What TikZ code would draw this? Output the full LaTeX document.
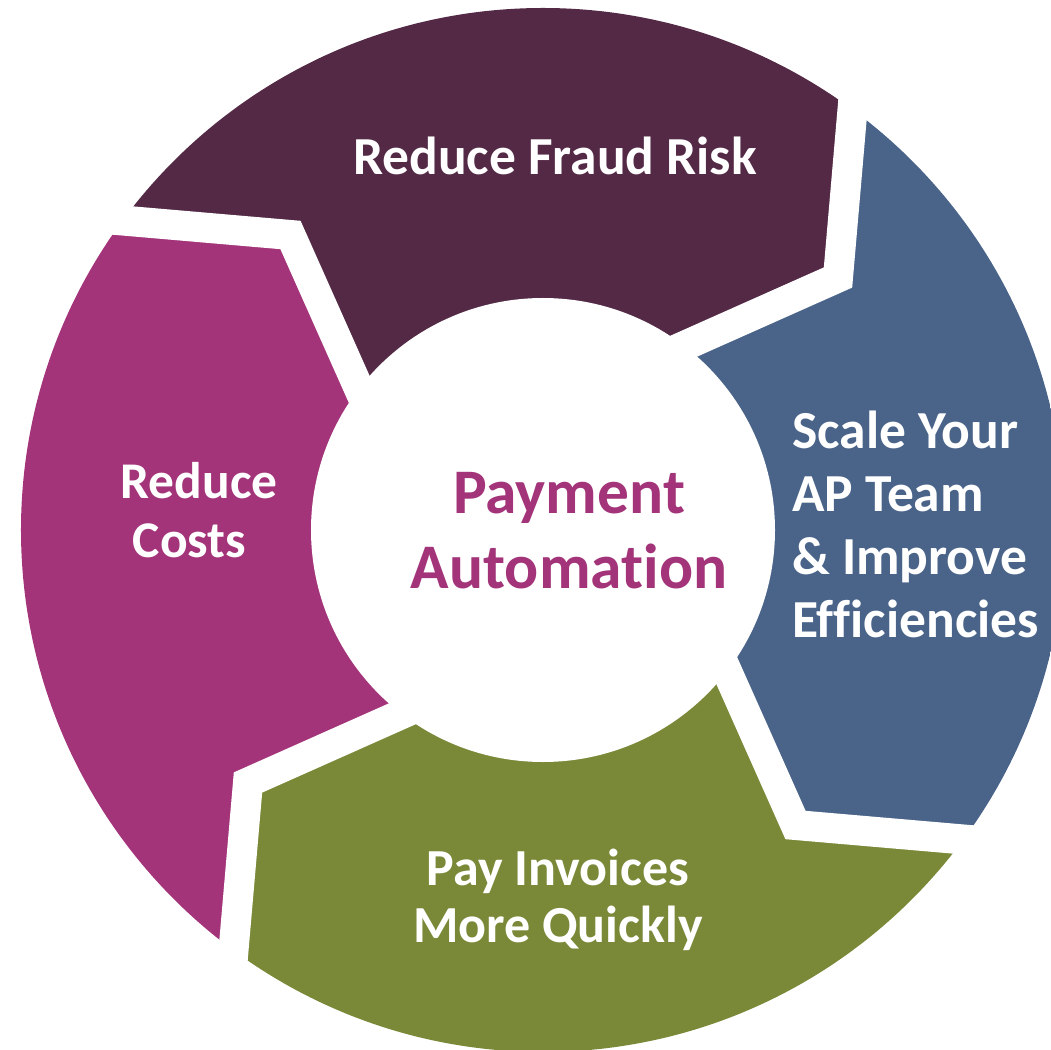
\documentclass[tikz,border=0pt]{standalone}
\usepackage{fontspec}
\setmainfont{Carlito}[Ligatures=NoCommon]
\definecolor{plum}{HTML}{532945}
\definecolor{berry}{HTML}{A3347A}
\definecolor{slate}{HTML}{4A6489}
\definecolor{olive}{HTML}{7A8938}
\begin{document}
\begin{tikzpicture}[x=1pt,y=1pt,
  seglabel/.style={text=white, inner sep=0pt},
  gap/.style={white, line width=30pt, line join=miter},
  sz/.style 2 args={font={\fontsize{#1}{#2}\selectfont\bfseries}}]
\useasboundingbox (-543,-519) rectangle (508,530);

% bent dividers between the four ring segments (outer, bend, inner)
\coordinate (d1a) at (316.75,504.5);  \coordinate (d1b) at (295,252.5);   \coordinate (d1c) at (94,163);
\coordinate (d2a) at (504.5,-316.75); \coordinate (d2b) at (252.5,-295);  \coordinate (d2c) at (163,-94);
\coordinate (d3a) at (-316.75,-504.5);\coordinate (d3b) at (-295,-252.5); \coordinate (d3c) at (-94,-163);
\coordinate (d4a) at (-504.5,316.75); \coordinate (d4b) at (-252.5,295);  \coordinate (d4c) at (-163,94);
\coordinate (o) at (0,0);

% ring segments
\begin{scope}
  \clip (o) circle (522);
  \fill[plum]  (d4a) -- (d4b) -- (d4c) -- (o) -- (d1c) -- (d1b) -- (d1a)
               -- (57.9:1500) -- (102.9:1500) -- (147.9:1500) -- cycle;
  \fill[slate] (d1a) -- (d1b) -- (d1c) -- (o) -- (d2c) -- (d2b) -- (d2a)
               -- (-32.1:1500) -- (12.9:1500) -- (57.9:1500) -- cycle;
  \fill[olive] (d2a) -- (d2b) -- (d2c) -- (o) -- (d3c) -- (d3b) -- (d3a)
               -- (-122.1:1500) -- (-77.1:1500) -- (-32.1:1500) -- cycle;
  \fill[berry] (d3a) -- (d3b) -- (d3c) -- (o) -- (d4c) -- (d4b) -- (d4a)
               -- (147.9:1500) -- (192.9:1500) -- (237.9:1500) -- cycle;
\end{scope}

% white gaps and centre disc
\draw[gap] (d1a) -- (d1b) -- (d1c);
\draw[gap] (d2a) -- (d2b) -- (d2c);
\draw[gap] (d3a) -- (d3b) -- (d3c);
\draw[gap] (d4a) -- (d4b) -- (d4c);
\fill[white] (o) circle (232);

% texts
\node[seglabel, sz={53.5}{61}, anchor=base] (fraud) at (12,355) {Reduce Fraud Risk};
\node[seglabel, sz={53.5}{63}, align=left, anchor=base west] (scale) at (249,-107)
  {Scale Your\\AP Team\\\& Improve\\Efficiencies};
\node[seglabel, sz={52}{57}, align=center, anchor=base] (pay) at (15,-412)
  {Pay Invoices\\More Quickly};
\node[seglabel, sz={51.5}{59}, align=center, anchor=base] (costs) at (-344,-27)
  {Reduce\\Costs\hspace*{19pt}};
\node[text=berry, inner sep=0pt, sz={63.5}{75}, align=center, anchor=base] (core) at (26,-58)
  {Payment\\Automation};
\end{tikzpicture}
\end{document}
